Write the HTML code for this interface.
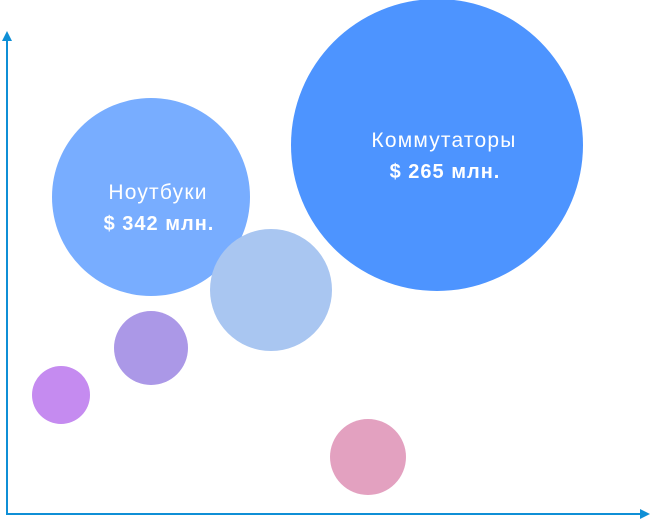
<!DOCTYPE html>
<html><head><meta charset="utf-8"><style>
html,body{margin:0;padding:0;background:#fff;width:650px;height:519px;overflow:hidden}
svg{display:block}
text{font-family:"Liberation Sans",sans-serif;fill:#fff}
</style></head><body>
<svg id="chart" width="650" height="519" viewBox="0 0 650 519" xmlns="http://www.w3.org/2000/svg">
<g id="bubbles"></g>
<g>
<line x1="7" y1="515" x2="7" y2="38" stroke="#0f8fd6" stroke-width="2"/>
<polygon points="7,31 2,41 12,41" fill="#0f8fd6"/>
<line x1="6" y1="514" x2="642" y2="514" stroke="#0f8fd6" stroke-width="2"/>
<polygon points="650,514 640,509 640,519" fill="#0f8fd6"/>
</g>
</svg>
<script>
const names = ["Коммутаторы","Ноутбуки","","","",""];
const values = ["$ 265 млн.","$ 342 млн.","","","",""];
const xVals = [430,144,264,144,54,361];
const yVals = [370,318,225,167,120,58];
const sizes = [146,99,61,37,29,38];
const colors = ["#4d94ff","#78adff","#a9c6f1","#ab98e7","#c58bf0","#e3a1c0"];
const xScale = v => 7 + v;
const yScale = v => 515 - v;
const g = document.getElementById('bubbles');
const NS = "http://www.w3.org/2000/svg";
for (let i = 0; i < xVals.length; i++) {
  const c = document.createElementNS(NS, 'circle');
  
  
  c.setAttribute('cx', xScale(xVals[i]));
  c.setAttribute('cy', yScale(yVals[i]));
  c.setAttribute('r', sizes[i]);
  c.setAttribute('fill', colors[i]);
  g.appendChild(c);
  if (names[i]) {
    const t = document.createElementNS(NS, 'text');
    
    
    t.setAttribute('x', xScale(xVals[i]) + 7);
    t.setAttribute('y', yScale(yVals[i]) + 2);
    t.setAttribute('text-anchor', 'middle');
    t.setAttribute('font-size', '21');
    t.setAttribute('letter-spacing', '1.2');
    t.textContent = names[i];
    g.appendChild(t);
    const v = document.createElementNS(NS, 'text');
    
    
    v.setAttribute('x', xScale(xVals[i]) + 8);
    v.setAttribute('y', yScale(yVals[i]) + 33);
    v.setAttribute('text-anchor', 'middle');
    v.setAttribute('font-size', '20');
    v.setAttribute('font-weight', 'bold');
    v.setAttribute('letter-spacing', '1');
    v.textContent = values[i];
    g.appendChild(v);
  }
}
</script>
</body></html>
